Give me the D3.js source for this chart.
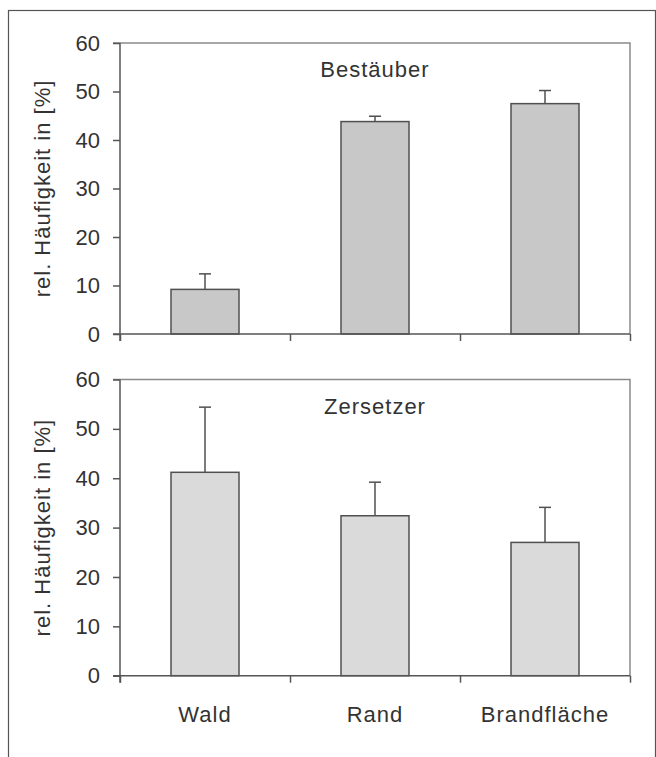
<!DOCTYPE html>
<html>
<head>
<meta charset="utf-8">
<script src="https://cdn.jsdelivr.net/npm/d3@7"></script>
<style>
    body { margin: 0; background: #fff; }
    text { font-family: "Liberation Sans", Arial, sans-serif; fill: #333; }
</style>
</head>
<body>
<svg id="chart" width="656" height="757"></svg>
<script>
'use strict'

const categories = ['Wald', 'Rand', 'Brandfläche']
const yTicks = [0, 10, 20, 30, 40, 50, 60]

// Bestäuber panel
const pollinatorValues = [9.2, 43.8, 47.5]
const pollinatorErrors = [3.2, 1.1, 2.7]

// Zersetzer panel
const decomposerValues = [41.2, 32.4, 27.0]
const decomposerErrors = [13.2, 6.8, 7.1]

const panels = [
    {title: 'Bestäuber', values: pollinatorValues, errors: pollinatorErrors,
        top: 43, bottom: 334, fill: '#c8c8c8', labels: false},
    {title: 'Zersetzer', values: decomposerValues, errors: decomposerErrors,
        top: 379.5, bottom: 675.7, fill: '#dadada', labels: true},
]

const left = 120
const right = 630
const tickLen = 7

const svg = d3.select('#chart')

// outer frame of the figure, runs off the bottom of the page
svg.append('rect')
    .attr('x', 8.5).attr('y', 10.5)
    .attr('width', 647).attr('height', 800)
    .attr('fill', 'none')
    .attr('stroke', '#555')
    .attr('stroke-width', 1.2)

const x = d3.scaleBand()
    .domain(categories)
    .range([left, right])
    .paddingInner(0.6)
    .paddingOuter(0.3)

// boundaries between the categories, where the tick marks sit
const xEdges = d3.scaleLinear().domain([0, categories.length]).range([left, right])

function drawPanel(p) {
    const y = d3.scaleLinear().domain([0, 60]).range([p.bottom, p.top])
    const g = svg.append('g')

    // top and right frame lines of the plot area
    g.append('path')
        .attr('d', 'M' + (left - tickLen) + ',' + y(60) + 'H' + right + 'V' + y(0))
        .attr('fill', 'none')
        .attr('stroke', '#8a8a8a')
        .attr('stroke-width', 1.5)

    g.selectAll('.bar')
        .data(p.values)
        .enter()
        .append('rect')
        .attr('class', 'bar')
        .attr('x', function (d, i) { return x(categories[i]) })
        .attr('y', function (d) { return y(d) })
        .attr('width', x.bandwidth())
        .attr('height', function (d) { return y(0) - y(d) })
        .attr('fill', p.fill)
        .attr('stroke', '#505050')
        .attr('stroke-width', 1.5)

    // error bars only go upwards
    const err = g.selectAll('.err')
        .data(p.values)
        .enter()
        .append('g')
        .attr('class', 'err')
        .attr('stroke', '#505050')
        .attr('stroke-width', 1.5)
    err.append('line')
        .attr('x1', function (d, i) { return x(categories[i]) + x.bandwidth() / 2 })
        .attr('x2', function (d, i) { return x(categories[i]) + x.bandwidth() / 2 })
        .attr('y1', function (d) { return y(d) })
        .attr('y2', function (d, i) { return y(d + p.errors[i]) })
    err.append('line')
        .attr('x1', function (d, i) { return x(categories[i]) + x.bandwidth() / 2 - 6 })
        .attr('x2', function (d, i) { return x(categories[i]) + x.bandwidth() / 2 + 6 })
        .attr('y1', function (d, i) { return y(d + p.errors[i]) })
        .attr('y2', function (d, i) { return y(d + p.errors[i]) })

    // y axis
    const yAxis = g.append('g')
        .attr('transform', 'translate(' + left + ',0)')
        .call(d3.axisLeft(y).tickValues(yTicks).tickSize(tickLen).tickPadding(13).tickSizeOuter(0))
    yAxis.select('.domain')
        .attr('d', 'M0,' + y(60) + 'V' + (y(0) + tickLen))
    yAxis.selectAll('path, line').attr('stroke', '#555').attr('stroke-width', 1.5)
    yAxis.selectAll('text')
        .style('font-size', '22px')
        .attr('fill', '#333')

    // category axis with ticks between the bars
    const xAxis = g.append('g')
        .attr('transform', 'translate(0,' + y(0) + ')')
        .call(d3.axisBottom(xEdges).ticks(categories.length).tickSize(tickLen).tickFormat('').tickSizeOuter(0))
    xAxis.select('.domain').attr('d', 'M' + (left - tickLen) + ',0H' + right)
    xAxis.selectAll('path, line').attr('stroke', '#555').attr('stroke-width', 1.5)

    if (p.labels) {
        const labels = g.append('g')
            .attr('transform', 'translate(0,' + y(0) + ')')
            .call(d3.axisBottom(x).tickSize(0).tickPadding(31))
        labels.select('.domain').remove()
        labels.selectAll('text')
            .style('font-size', '22px')
            .style('letter-spacing', '1px')
            .attr('fill', '#333')
    }

    g.append('text')
        .attr('x', (left + right) / 2)
        .attr('y', y(60) + 34)
        .attr('text-anchor', 'middle')
        .style('font-size', '22px')
        .style('letter-spacing', '1px')
        .text(p.title)

    g.append('text')
        .attr('transform', 'translate(50,' + (y(0) + y(60)) / 2 + ') rotate(-90)')
        .attr('text-anchor', 'middle')
        .style('font-size', '22px')
        .style('letter-spacing', '1px')
        .text('rel. Häufigkeit in [%]')
}

panels.forEach(drawPanel)
</script>
</body>
</html>
